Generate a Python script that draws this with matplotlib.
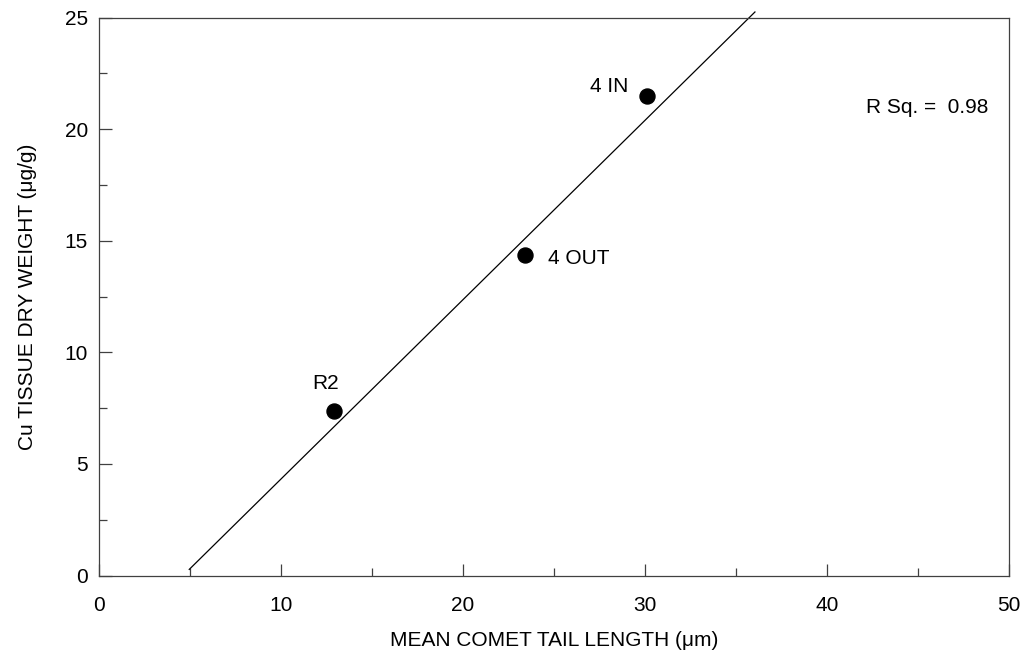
import numpy as np
from matplotlib import pyplot as plt
from matplotlib.ticker import MultipleLocator

plt.rcParams["font.family"] = ["Liberation Sans", "DejaVu Sans"]

# data
site_names = ["R2", "4 OUT", "4 IN"]
tail_length = [12.91, 23.41, 30.13]   # um
cu_weight = [7.39, 14.38, 21.49]      # ug/g
r_sq = 0.98

# fitted line as drawn in the original
fit_slope = 0.8037
fit_intercept = -3.71
fit_range = [4.96, 36.04]

fig = plt.figure(figsize=(10.31, 6.5), dpi=100)
ax = fig.add_axes([0.096, 0.1145, 0.8827, 0.8583])

fit_x = np.array(fit_range)
ax.plot(fit_x, fit_slope * fit_x + fit_intercept, color="black", lw=0.9, clip_on=False)
ax.plot(tail_length, cu_weight, "o", color="black", markersize=10.8, zorder=3)

# point labels
offsets = {"R2": (-5.8, 15.6, "center"), "4 OUT": (16.5, -6.7, "left"), "4 IN": (-14, 3, "right")}
for name, x, y in zip(site_names, tail_length, cu_weight):
    dx, dy, ha = offsets[name]
    ax.annotate(name, (x, y), xytext=(dx, dy), textcoords="offset points",
                ha=ha, va="baseline", fontsize=15)

ax.text(0.843, 0.839, "R Sq. =  %.2f" % r_sq, transform=ax.transAxes,
        ha="left", va="center", fontsize=15)

ax.set_xlim(0, 50)
ax.set_ylim(0, 25)
ax.xaxis.set_major_locator(MultipleLocator(10))
ax.xaxis.set_minor_locator(MultipleLocator(5))
ax.yaxis.set_major_locator(MultipleLocator(5))
ax.yaxis.set_minor_locator(MultipleLocator(2.5))
ax.tick_params(which="both", direction="in", color="#404040", width=0.9,
               top=False, right=False, labelsize=15)
ax.tick_params(which="major", length=9)
ax.tick_params(which="minor", length=6)
ax.tick_params(axis="x", pad=14.5)
ax.tick_params(axis="y", pad=8)

for s in ax.spines.values():
    s.set_color("#404040")
    s.set_linewidth(0.9)

ax.set_xlabel("MEAN COMET TAIL LENGTH (\u03bcm)", fontsize=15, labelpad=12)
ax.set_ylabel("Cu TISSUE DRY WEIGHT (\u03bcg/g)", fontsize=15, labelpad=20)

fig.savefig("out.png", dpi=100)
